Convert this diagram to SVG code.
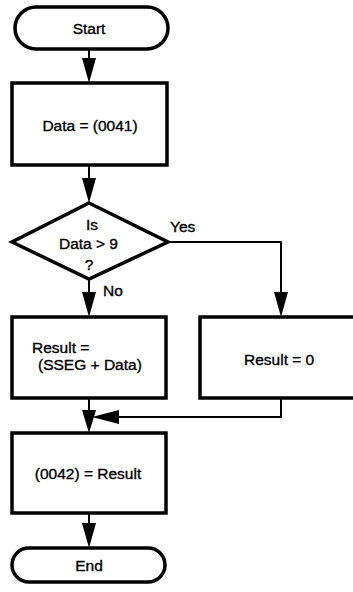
<svg xmlns="http://www.w3.org/2000/svg" width="353" height="592" viewBox="0 0 353 592">
<style>
.n{fill:#fff;stroke:#000;stroke-width:3.5}
.c{fill:none;stroke:#000;stroke-width:2}
.h{fill:#000;stroke:none}
text{font-family:"Liberation Sans",Arial,sans-serif;font-size:15.5px;fill:#000;stroke:#000;stroke-width:0.35}
.m{text-anchor:middle}
</style>
<rect width="353" height="592" fill="#fff"/>
<g id="connectors">
<line class="c" x1="89" y1="49" x2="89" y2="62"/>
<polygon class="h" points="82,58 96,58 89,83"/>
<line class="c" x1="89" y1="165" x2="89" y2="182"/>
<polygon class="h" points="82,178 96,178 89,203"/>
<polyline class="c" points="168,242 281,242 281,296"/>
<polygon class="h" points="274,292 288,292 281,317"/>
<line class="c" x1="89" y1="279" x2="89" y2="296"/>
<polygon class="h" points="82,292 96,292 89,317"/>
<line class="c" x1="89" y1="398" x2="89" y2="414"/>
<polygon class="h" points="82,410 96,410 89,433"/>
<polyline class="c" points="281,398 281,417 115,417"/>
<polygon class="h" points="119,410 119,424 92,417"/>
<line class="c" x1="89" y1="513" x2="89" y2="527"/>
<polygon class="h" points="82,523 96,523 89,548"/>
<text x="170" y="232">Yes</text>
<text x="103" y="296">No</text>
</g>
<g id="start">
<rect class="n" x="15" y="7" width="153" height="42" rx="21"/>
<text class="m" x="89" y="34">Start</text>
</g>
<g id="data">
<rect class="n" x="12" y="83" width="155" height="82"/>
<text class="m" x="90" y="131">Data = (0041)</text>
</g>
<g id="decision">
<polygon class="n" points="89,203 168,242 89,279 12,242"/>
<text class="m" x="92" y="230">Is</text>
<text x="59" y="249">Data</text>
<text x="96" y="249">&gt; 9</text>
<text class="m" x="89" y="270">?</text>
</g>
<g id="result-sum">
<rect class="n" x="12" y="317" width="154" height="81"/>
<text x="32" y="353">Result =</text>
<text x="38" y="370">(SSEG + Data)</text>
</g>
<g id="result-zero">
<rect class="n" x="200" y="317" width="160" height="81"/>
<text x="244" y="365">Result = 0</text>
</g>
<g id="store">
<rect class="n" x="12" y="433" width="154" height="80"/>
<text class="m" x="88" y="479">(0042) = Result</text>
</g>
<g id="end">
<rect class="n" x="12" y="548" width="153" height="34" rx="17"/>
<text class="m" x="89" y="571">End</text>
</g>
</svg>
